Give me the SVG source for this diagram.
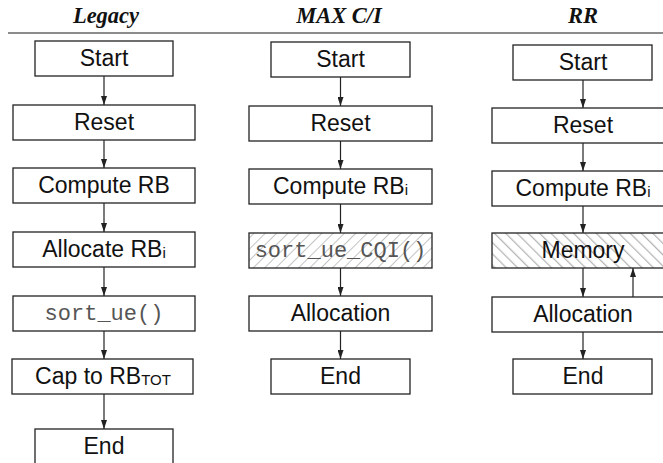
<svg xmlns="http://www.w3.org/2000/svg" width="663" height="463" viewBox="0 0 663 463">
<defs>
<marker id="ah" markerWidth="10" markerHeight="6" refX="9" refY="3" orient="auto" markerUnits="userSpaceOnUse">
<path d="M0,0 L9,3 L0,6 Z" fill="#222"/>
</marker>
<pattern id="hatchF" width="8" height="8" patternUnits="userSpaceOnUse" patternTransform="rotate(45)">
<rect width="8" height="8" fill="#fff"/>
<line x1="0" y1="0" x2="0" y2="8" stroke="#c4c4c4" stroke-width="2"/>
</pattern>
<pattern id="hatchB" width="8" height="8" patternUnits="userSpaceOnUse" patternTransform="rotate(-45)">
<rect width="8" height="8" fill="#fff"/>
<line x1="0" y1="0" x2="0" y2="8" stroke="#b4b4b4" stroke-width="2.5"/>
</pattern>
</defs>
<style>
.box{fill:#fff;stroke:#222;stroke-width:1.3}
.t{font-family:"Liberation Sans",Arial,sans-serif;font-size:23px;fill:#111;text-anchor:middle}
.m{font-family:"Liberation Mono","Courier New",monospace;font-size:22px;fill:#555;text-anchor:middle}
.h{font-family:"Liberation Serif","Times New Roman",serif;font-size:22.5px;font-weight:bold;font-style:italic;fill:#111;text-anchor:middle}
.c{stroke:#222;stroke-width:1.2;fill:none;marker-end:url(#ah)}
.sub{font-size:15px}
</style>
<rect width="663" height="463" fill="#fff"/>
<g id="headers">
<text class="h" x="106" y="23">Legacy</text>
<text class="h" x="339" y="23">MAX C/I</text>
<text class="h" x="583" y="23">RR</text>
<line x1="8" y1="33" x2="663" y2="33" stroke="#666" stroke-width="1.5"/>
</g>
<g id="legacy">
<g id="l-start"><rect class="box" x="35" y="41" width="138" height="35"/><text class="t" x="104" y="66">Start</text></g>
<g id="l-reset"><rect class="box" x="13" y="105" width="182" height="35"/><text class="t" x="104" y="130">Reset</text></g>
<g id="l-compute"><rect class="box" x="13" y="168" width="182" height="35"/><text class="t" x="104" y="193">Compute RB</text></g>
<g id="l-allocate"><rect class="box" x="13" y="232" width="182" height="35"/><text class="t" x="104" y="257">Allocate RB<tspan class="sub" dy="1">i</tspan></text></g>
<g id="l-sort"><rect class="box" x="13" y="296" width="182" height="35"/><text class="m" x="104" y="320">sort_ue()</text></g>
<g id="l-cap"><rect class="box" x="12" y="359" width="181" height="35"/><text class="t" x="103" y="384">Cap to RB<tspan class="sub" dy="1">TOT</tspan></text></g>
<g id="l-end"><rect class="box" x="35" y="429" width="138" height="35"/><text class="t" x="104" y="454">End</text></g>
</g>
<g id="maxci">
<g id="m-start"><rect class="box" x="271" y="42" width="139" height="35"/><text class="t" x="340.5" y="67">Start</text></g>
<g id="m-reset"><rect class="box" x="249" y="106" width="183" height="35"/><text class="t" x="340.5" y="131">Reset</text></g>
<g id="m-compute"><rect class="box" x="249" y="169" width="183" height="35"/><text class="t" x="340.5" y="194">Compute RB<tspan class="sub" dy="1">i</tspan></text></g>
<g id="m-sort"><rect class="box" x="249" y="233" width="183" height="35" style="fill:url(#hatchF)"/><text class="m" x="340.5" y="257">sort_ue_CQI()</text></g>
<g id="m-alloc"><rect class="box" x="249" y="296" width="183" height="35"/><text class="t" x="340.5" y="321">Allocation</text></g>
<g id="m-end"><rect class="box" x="271" y="359" width="139" height="35"/><text class="t" x="340.5" y="384">End</text></g>
</g>
<g id="rr">
<g id="r-start"><rect class="box" x="513" y="45" width="139" height="35"/><text class="t" x="583" y="70">Start</text></g>
<g id="r-reset"><rect class="box" x="492" y="108" width="183" height="35"/><text class="t" x="583" y="133">Reset</text></g>
<g id="r-compute"><rect class="box" x="492" y="171" width="183" height="35"/><text class="t" x="583" y="196">Compute RB<tspan class="sub" dy="1">i</tspan></text></g>
<g id="r-memory"><rect class="box" x="492" y="233" width="183" height="35" style="fill:url(#hatchB)"/><text class="t" x="583" y="258">Memory</text></g>
<g id="r-alloc"><rect class="box" x="492" y="297" width="183" height="35"/><text class="t" x="583" y="322">Allocation</text></g>
<g id="r-end"><rect class="box" x="513" y="359" width="139" height="35"/><text class="t" x="583" y="384">End</text></g>
</g>
<g id="connectors">
<line class="c" x1="104" y1="76" x2="104" y2="105"/>
<line class="c" x1="104" y1="140" x2="104" y2="168"/>
<line class="c" x1="104" y1="203" x2="104" y2="232"/>
<line class="c" x1="104" y1="267" x2="104" y2="296"/>
<line class="c" x1="104" y1="331" x2="104" y2="359"/>
<line class="c" x1="104" y1="394" x2="104" y2="429"/>
<line class="c" x1="340.5" y1="77" x2="340.5" y2="106"/>
<line class="c" x1="340.5" y1="141" x2="340.5" y2="169"/>
<line class="c" x1="340.5" y1="204" x2="340.5" y2="233"/>
<line class="c" x1="340.5" y1="268" x2="340.5" y2="296"/>
<line class="c" x1="340.5" y1="331" x2="340.5" y2="359"/>
<line class="c" x1="583" y1="80" x2="583" y2="108"/>
<line class="c" x1="583" y1="143" x2="583" y2="171"/>
<line class="c" x1="583" y1="206" x2="583" y2="233"/>
<line class="c" x1="583" y1="268" x2="583" y2="297"/>
<line class="c" x1="583" y1="332" x2="583" y2="359"/>
<line class="c" x1="633" y1="297" x2="633" y2="268"/>
</g>
</svg>
